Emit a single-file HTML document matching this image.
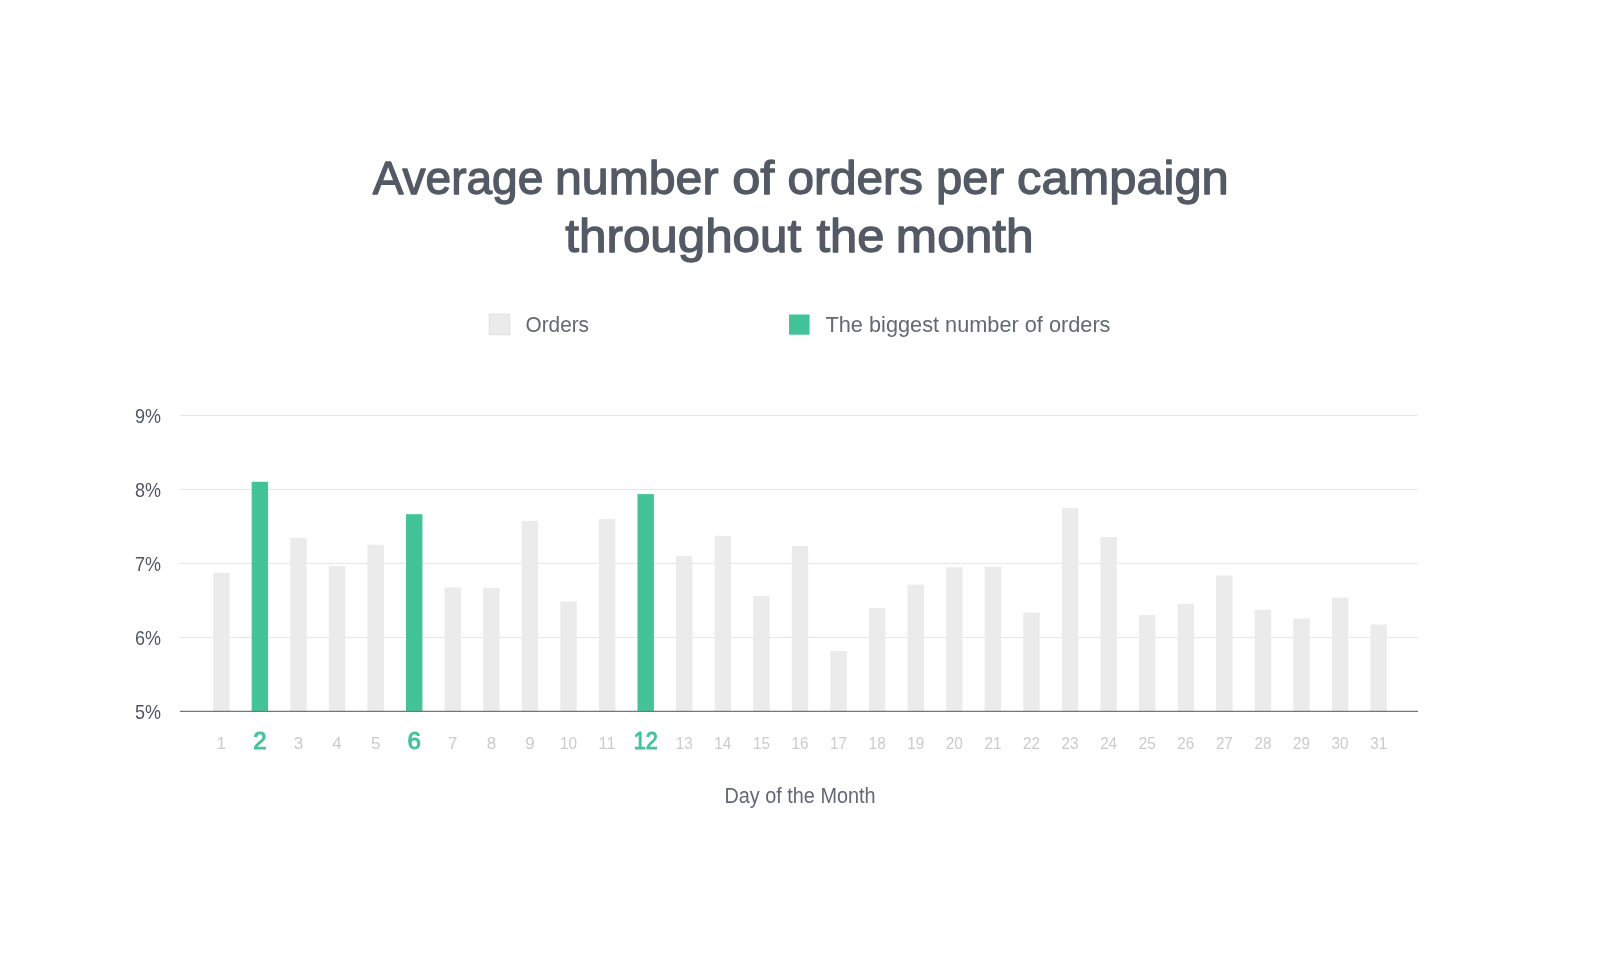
<!DOCTYPE html>
<html><head><meta charset="utf-8"><style>
html,body{margin:0;padding:0;background:#fff;}
body{width:1600px;height:964px;overflow:hidden;}
svg{display:block;font-family:"Liberation Sans",sans-serif;will-change:transform;}
.t{font-size:47px;font-weight:normal;fill:#535a65;stroke:#535a65;stroke-width:1.3px;stroke-linejoin:round;}
.lg{font-size:22.5px;fill:#626975;}
.yl{font-size:21px;fill:#4f5661;text-anchor:end;}
.xl{font-size:17px;fill:#cbcbcb;text-anchor:middle;}
.xl.g{font-size:24px;font-weight:normal;fill:#43c398;stroke:#43c398;stroke-width:1px;stroke-linejoin:round;}
.at{font-size:22px;fill:#626975;text-anchor:middle;}
</style></head><body>
<svg width="1600" height="964" viewBox="0 0 1600 964">
<text x="372.65" y="194.2" class="t" textLength="170.67" lengthAdjust="spacingAndGlyphs">Average</text>
<text x="555.07" y="194.2" class="t" textLength="163.36" lengthAdjust="spacingAndGlyphs">number</text>
<text x="732.20" y="194.2" class="t" textLength="42.17" lengthAdjust="spacingAndGlyphs">of</text>
<text x="787.52" y="194.2" class="t" textLength="135.28" lengthAdjust="spacingAndGlyphs">orders</text>
<text x="936.04" y="194.2" class="t" textLength="68.15" lengthAdjust="spacingAndGlyphs">per</text>
<text x="1017.07" y="194.2" class="t" textLength="211.68" lengthAdjust="spacingAndGlyphs">campaign</text>
<text x="565.35" y="251.8" class="t" textLength="235.75" lengthAdjust="spacingAndGlyphs">throughout</text>
<text x="816.41" y="251.8" class="t" textLength="67.98" lengthAdjust="spacingAndGlyphs">the</text>
<text x="895.89" y="251.8" class="t" textLength="137.75" lengthAdjust="spacingAndGlyphs">month</text>
<rect x="489.2" y="314.2" width="20.6" height="20.6" fill="#ebebeb" stroke="#dedede" stroke-width="0.9"/>
<text x="525.5" y="332" class="lg" textLength="63.5" lengthAdjust="spacingAndGlyphs">Orders</text>
<rect x="789" y="314.5" width="20.6" height="20.2" fill="#43c398"/>
<text x="825.5" y="332" class="lg" textLength="285" lengthAdjust="spacingAndGlyphs">The biggest number of orders</text>
<line x1="180" x2="1418" y1="415.4" y2="415.4" stroke="#e6e6e6" stroke-width="1"/><line x1="180" x2="1418" y1="489.4" y2="489.4" stroke="#e6e6e6" stroke-width="1"/><line x1="180" x2="1418" y1="563.4" y2="563.4" stroke="#e6e6e6" stroke-width="1"/><line x1="180" x2="1418" y1="637.4" y2="637.4" stroke="#e6e6e6" stroke-width="1"/>
<rect x="213.10" y="572.70" width="16.4" height="138.30" fill="#ebebeb"/><rect x="251.68" y="481.80" width="16.4" height="229.20" fill="#43c398"/><rect x="290.26" y="537.90" width="16.4" height="173.10" fill="#ebebeb"/><rect x="328.84" y="566.00" width="16.4" height="145.00" fill="#ebebeb"/><rect x="367.42" y="544.70" width="16.4" height="166.30" fill="#ebebeb"/><rect x="406.00" y="514.20" width="16.4" height="196.80" fill="#43c398"/><rect x="444.58" y="587.50" width="16.4" height="123.50" fill="#ebebeb"/><rect x="483.16" y="588.10" width="16.4" height="122.90" fill="#ebebeb"/><rect x="521.74" y="520.90" width="16.4" height="190.10" fill="#ebebeb"/><rect x="560.32" y="601.50" width="16.4" height="109.50" fill="#ebebeb"/><rect x="598.90" y="519.20" width="16.4" height="191.80" fill="#ebebeb"/><rect x="637.48" y="494.10" width="16.4" height="216.90" fill="#43c398"/><rect x="676.06" y="556.10" width="16.4" height="154.90" fill="#ebebeb"/><rect x="714.64" y="535.80" width="16.4" height="175.20" fill="#ebebeb"/><rect x="753.22" y="596.10" width="16.4" height="114.90" fill="#ebebeb"/><rect x="791.80" y="546.00" width="16.4" height="165.00" fill="#ebebeb"/><rect x="830.38" y="651.00" width="16.4" height="60.00" fill="#ebebeb"/><rect x="868.96" y="608.00" width="16.4" height="103.00" fill="#ebebeb"/><rect x="907.54" y="584.70" width="16.4" height="126.30" fill="#ebebeb"/><rect x="946.12" y="567.30" width="16.4" height="143.70" fill="#ebebeb"/><rect x="984.70" y="566.80" width="16.4" height="144.20" fill="#ebebeb"/><rect x="1023.28" y="612.50" width="16.4" height="98.50" fill="#ebebeb"/><rect x="1061.86" y="508.10" width="16.4" height="202.90" fill="#ebebeb"/><rect x="1100.44" y="537.10" width="16.4" height="173.90" fill="#ebebeb"/><rect x="1139.02" y="615.00" width="16.4" height="96.00" fill="#ebebeb"/><rect x="1177.60" y="603.90" width="16.4" height="107.10" fill="#ebebeb"/><rect x="1216.18" y="575.50" width="16.4" height="135.50" fill="#ebebeb"/><rect x="1254.76" y="609.80" width="16.4" height="101.20" fill="#ebebeb"/><rect x="1293.34" y="618.50" width="16.4" height="92.50" fill="#ebebeb"/><rect x="1331.92" y="597.70" width="16.4" height="113.30" fill="#ebebeb"/><rect x="1370.50" y="624.50" width="16.4" height="86.50" fill="#ebebeb"/>
<line x1="180" x2="1418" y1="711.3" y2="711.3" stroke="#72767f" stroke-width="1.3"/>
<text x="161" y="422.8" class="yl" textLength="26" lengthAdjust="spacingAndGlyphs">9%</text><text x="161" y="496.8" class="yl" textLength="26" lengthAdjust="spacingAndGlyphs">8%</text><text x="161" y="570.8" class="yl" textLength="26" lengthAdjust="spacingAndGlyphs">7%</text><text x="161" y="644.8" class="yl" textLength="26" lengthAdjust="spacingAndGlyphs">6%</text><text x="161" y="718.8" class="yl" textLength="26" lengthAdjust="spacingAndGlyphs">5%</text>
<text x="221.30" y="749" class="xl">1</text><text x="259.88" y="748.5" class="xl g">2</text><text x="298.46" y="749" class="xl">3</text><text x="337.04" y="749" class="xl">4</text><text x="375.62" y="749" class="xl">5</text><text x="414.20" y="748.5" class="xl g">6</text><text x="452.78" y="749" class="xl">7</text><text x="491.36" y="749" class="xl">8</text><text x="529.94" y="749" class="xl">9</text><text x="568.52" y="749" class="xl" textLength="17" lengthAdjust="spacingAndGlyphs">10</text><text x="607.10" y="749" class="xl" textLength="17" lengthAdjust="spacingAndGlyphs">11</text><text x="645.68" y="748.5" class="xl g" textLength="24" lengthAdjust="spacingAndGlyphs">12</text><text x="684.26" y="749" class="xl" textLength="17" lengthAdjust="spacingAndGlyphs">13</text><text x="722.84" y="749" class="xl" textLength="17" lengthAdjust="spacingAndGlyphs">14</text><text x="761.42" y="749" class="xl" textLength="17" lengthAdjust="spacingAndGlyphs">15</text><text x="800.00" y="749" class="xl" textLength="17" lengthAdjust="spacingAndGlyphs">16</text><text x="838.58" y="749" class="xl" textLength="17" lengthAdjust="spacingAndGlyphs">17</text><text x="877.16" y="749" class="xl" textLength="17" lengthAdjust="spacingAndGlyphs">18</text><text x="915.74" y="749" class="xl" textLength="17" lengthAdjust="spacingAndGlyphs">19</text><text x="954.32" y="749" class="xl" textLength="17" lengthAdjust="spacingAndGlyphs">20</text><text x="992.90" y="749" class="xl" textLength="17" lengthAdjust="spacingAndGlyphs">21</text><text x="1031.48" y="749" class="xl" textLength="17" lengthAdjust="spacingAndGlyphs">22</text><text x="1070.06" y="749" class="xl" textLength="17" lengthAdjust="spacingAndGlyphs">23</text><text x="1108.64" y="749" class="xl" textLength="17" lengthAdjust="spacingAndGlyphs">24</text><text x="1147.22" y="749" class="xl" textLength="17" lengthAdjust="spacingAndGlyphs">25</text><text x="1185.80" y="749" class="xl" textLength="17" lengthAdjust="spacingAndGlyphs">26</text><text x="1224.38" y="749" class="xl" textLength="17" lengthAdjust="spacingAndGlyphs">27</text><text x="1262.96" y="749" class="xl" textLength="17" lengthAdjust="spacingAndGlyphs">28</text><text x="1301.54" y="749" class="xl" textLength="17" lengthAdjust="spacingAndGlyphs">29</text><text x="1340.12" y="749" class="xl" textLength="17" lengthAdjust="spacingAndGlyphs">30</text><text x="1378.70" y="749" class="xl" textLength="17" lengthAdjust="spacingAndGlyphs">31</text>
<text x="800" y="803" class="at" textLength="151" lengthAdjust="spacingAndGlyphs">Day of the Month</text>
</svg>
</body></html>
